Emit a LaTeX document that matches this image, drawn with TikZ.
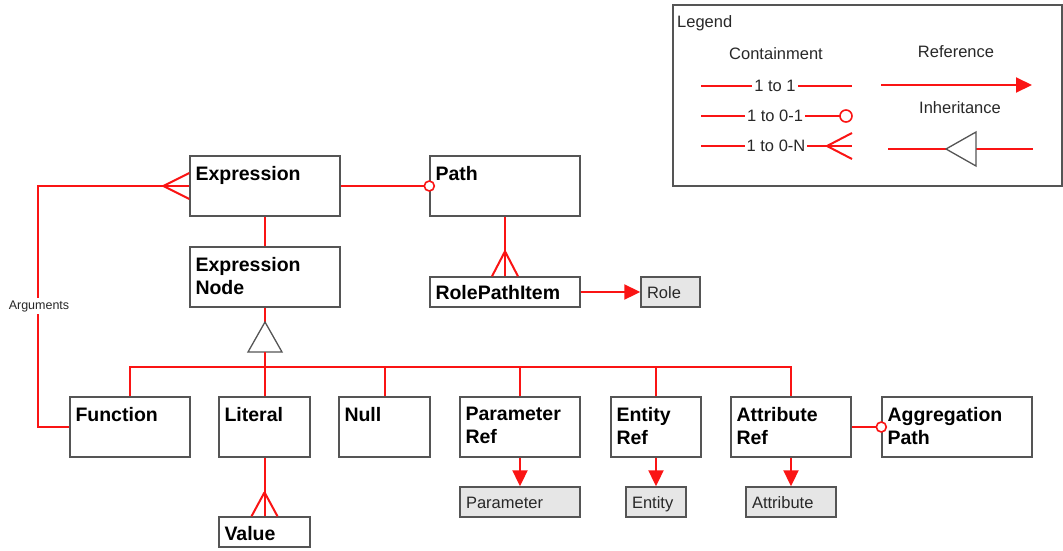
\documentclass[tikz,border=0pt]{standalone}
\usepackage{fontspec}
\setmainfont{Liberation Sans}
\usetikzlibrary{arrows.meta,calc}
\definecolor{lred}{RGB}{250,20,20}
\definecolor{bordergray}{RGB}{85,85,85}
\definecolor{boxfill}{RGB}{230,230,230}
\definecolor{textgray}{RGB}{40,40,40}
\begin{document}
\begin{tikzpicture}[x=1pt,y=-1pt,
  ent/.style={draw=bordergray, line width=1.4pt, fill=white, minimum height=60pt, inner sep=0pt},
  lbl/.style={anchor=north west, inner sep=0pt, align=left, text=black,
    font=\fontsize{19.5}{23}\selectfont\bfseries},
  gbox/.style={draw=bordergray, line width=1.4pt, fill=boxfill, minimum height=30pt,
    inner xsep=6pt, inner ysep=0pt, align=left, text=textgray,
    text height=15pt, text depth=3pt,
    font=\fontsize{16.5}{19}\selectfont},
  rl/.style={draw=lred, line width=2pt},
  refarrow/.style={rl, -{Triangle[length=16pt,width=15pt]}, fill=lred},
  zeroone/.style={draw=lred, line width=1.6pt, fill=white},
  tri/.style={draw=bordergray, line width=1.3pt, fill=white, line join=miter},
  legtxt/.style={inner sep=0pt, text=textgray, font=\fontsize{16.5}{19}\selectfont},
  linetxt/.style={fill=white, inner xsep=2pt, inner ysep=0pt, text=textgray, font=\fontsize{16.5}{19}\selectfont}
]
\useasboundingbox (0,0) rectangle (1063,550);

% ---------- boxes ----------
\node[ent, minimum width=150pt] (expr) at (265,186) {};
\node[lbl] (exprT) at ($(expr.north west)+(6,11)$) {Expression};
\node[ent, minimum width=150pt] (path) at (505,186) {};
\node[lbl] (pathT) at ($(path.north west)+(6,11)$) {Path};
\node[ent, minimum width=150pt] (exprnode) at (265,277) {};
\node[lbl] (exprnodeT) at ($(exprnode.north west)+(6,11)$) {Expression\\Node};
\node[ent, minimum width=150pt, minimum height=30pt] (rpi) at (505,292) {};
\node[lbl] (rpiT) at ($(rpi.north west)+(6,9)$) {RolePathItem};
\node[gbox, text width=47pt] (role) at (670.5,292) {Role};

\node[ent, minimum width=120pt] (func) at (130,427) {};
\node[lbl] (funcT) at ($(func.north west)+(6,11)$) {Function};
\node[ent, minimum width=91pt] (literal) at (264.5,427) {};
\node[lbl] (literalT) at ($(literal.north west)+(6,11)$) {Literal};
\node[ent, minimum width=91pt] (null) at (384.5,427) {};
\node[lbl] (nullT) at ($(null.north west)+(6,11)$) {Null};
\node[ent, minimum width=120pt] (paramref) at (520,427) {};
\node[lbl] (paramrefT) at ($(paramref.north west)+(6,11)$) {Parameter\\Ref};
\node[ent, minimum width=90pt] (entref) at (656,427) {};
\node[lbl] (entrefT) at ($(entref.north west)+(6,11)$) {Entity\\Ref};
\node[ent, minimum width=120pt] (attrref) at (791,427) {};
\node[lbl] (attrrefT) at ($(attrref.north west)+(6,11)$) {Attribute\\Ref};
\node[ent, minimum width=150pt] (aggpath) at (957,427) {};
\node[lbl] (aggpathT) at ($(aggpath.north west)+(6,11)$) {Aggregation\\Path};

\node[ent, minimum width=91pt, minimum height=30pt] (value) at (264.5,532) {};
\node[lbl] (valueT) at ($(value.north west)+(6,10)$) {Value};
\node[gbox, text width=108pt] (param) at (520,502) {Parameter};
\node[gbox, text width=48pt] (entity) at (656,502) {Entity};
\node[gbox, text width=78pt] (attribute) at (791,502) {Attribute};

% ---------- inheritance ----------
\coordinate (inhtop) at (265,322);
\coordinate (inhbot) at (265,352);
\coordinate (bus) at (265,367);
\draw[rl] (exprnode.south) -- (inhtop);
\draw[tri] (inhtop) -- ++(17,30) -- ++(-34,0) -- cycle;
\draw[rl] (inhbot) -- (bus);
\draw[rl] (func.north) |- (bus) -| (attrref.north);
\foreach \n in {literal,null,paramref,entref}
  \draw[rl] (\n.north) -- (\n.north |- bus);

% ---------- containment ----------
\draw[rl] (expr.south) -- (exprnode.north);
% Arguments (1 to 0-N)
\draw[rl] (func.west) -| ($(expr.west)+(-151,0)$) -- (expr.west);
\draw[rl] ($(expr.west)+(-26,0)$) -- ($(expr.west)+(0,-13)$);
\draw[rl] ($(expr.west)+(-26,0)$) -- ($(expr.west)+(0,13)$);
\node[fill=white, inner xsep=0pt, inner ysep=2pt, text=textgray,
  font=\fontsize{12.5}{14}\selectfont] (arglab) at (39,306) {Arguments};
% Expression -> Path (1 to 0-1)
\draw[rl] (expr.east) -- (path.west);
\draw[zeroone] (path.west) circle (5pt);
% Path -> RolePathItem (1 to 0-N)
\draw[rl] (path.south) -- (rpi.north);
\draw[rl] ($(rpi.north)+(0,-25)$) -- ($(rpi.north)+(-13,0)$);
\draw[rl] ($(rpi.north)+(0,-25)$) -- ($(rpi.north)+(13,0)$);
% Literal -> Value (1 to 0-N)
\draw[rl] (literal.south) -- (value.north);
\draw[rl] ($(value.north)+(0,-24)$) -- ($(value.north)+(-13,0)$);
\draw[rl] ($(value.north)+(0,-24)$) -- ($(value.north)+(13,0)$);
% Attribute Ref -> Aggregation Path (1 to 0-1)
\draw[rl] (attrref.east) -- (aggpath.west);
\draw[zeroone] (aggpath.west) circle (5pt);

% ---------- references ----------
\draw[refarrow] (rpi.east) -- (role.west);
\draw[refarrow] (paramref.south) -- (param.north);
\draw[refarrow] (entref.south) -- (entity.north);
\draw[refarrow] (attrref.south) -- (attribute.north);

% ---------- legend ----------
\node[draw=bordergray, line width=1.5pt, minimum width=389pt, minimum height=181pt, inner sep=0pt] (legend) at (867.5,95.5) {};
\node[legtxt, anchor=base west] (legT) at (677,27) {Legend};
\node[legtxt] (contT) at (776,54) {Containment};
\node[legtxt] (refT) at (956,52) {Reference};
\node[legtxt] (inhT) at (960,108) {Inheritance};

\coordinate (a1) at (701,86); \coordinate (b1) at (852,86);
\draw[rl] (a1) -- (b1);
\node[linetxt] (t11) at (775,86) {1 to 1};

\coordinate (a2) at (701,116); \coordinate (b2) at (840,116); \coordinate (c2) at (846,116);
\draw[rl] (a2) -- (b2);
\draw[zeroone] (c2) circle (6pt);
\node[linetxt] (t101) at (775,116) {1 to 0-1};

\coordinate (a3) at (701,146); \coordinate (b3) at (852,146); \coordinate (f3) at (827,146);
\draw[rl] (a3) -- (b3);
\draw[rl] (f3) -- (852,133);
\draw[rl] (f3) -- (852,159);
\node[linetxt] (t10n) at (776,146) {1 to 0-N};

\coordinate (ra) at (881,85); \coordinate (rb) at (1032,85);
\draw[refarrow] (ra) -- (rb);

\coordinate (ia) at (888,149); \coordinate (ib) at (1033,149); \coordinate (itip) at (946,149);
\draw[rl] (ia) -- (ib);
\draw[tri] (itip) -- (976,132) -- (976,166) -- cycle;
\end{tikzpicture}
\end{document}
